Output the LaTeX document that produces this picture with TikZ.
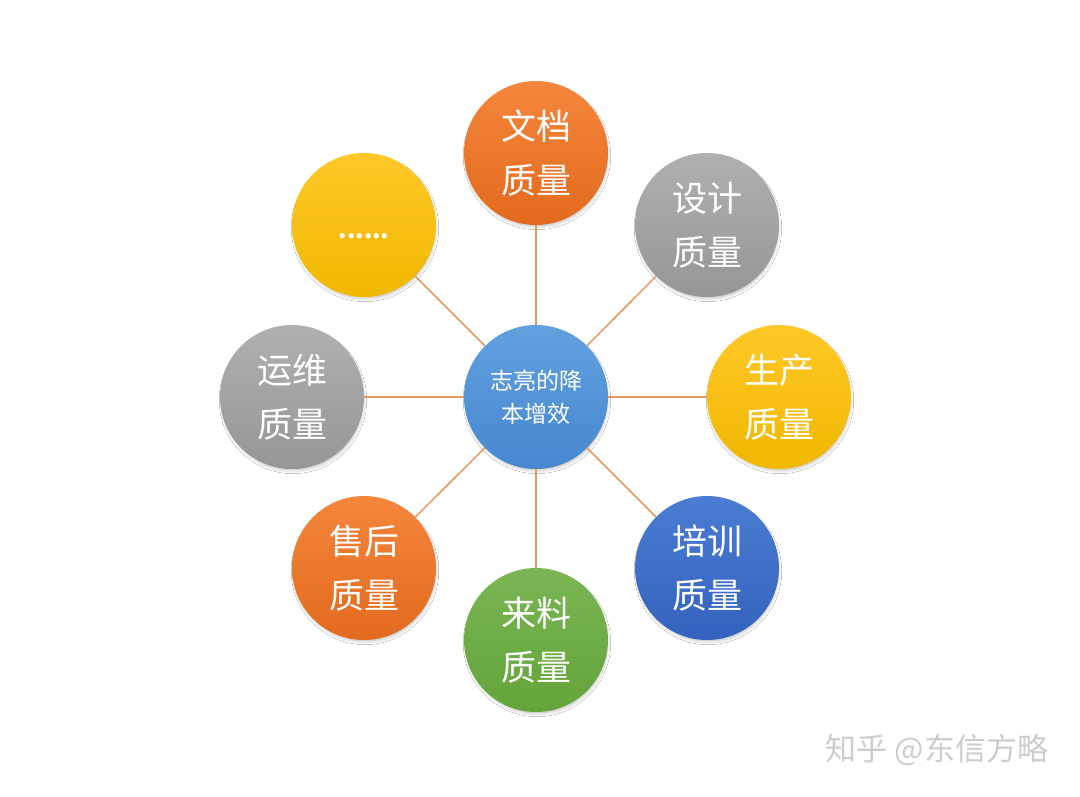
\documentclass[tikz,border=0pt]{standalone}
\usepackage{fontspec}
\setmainfont{Noto Sans CJK SC}
\usetikzlibrary{shadows.blur}
\definecolor{orgT}{RGB}{244,134,60}
\definecolor{orgB}{RGB}{226,106,30}
\definecolor{gryT}{RGB}{176,176,176}
\definecolor{gryB}{RGB}{150,150,150}
\definecolor{ylwT}{RGB}{255,200,40}
\definecolor{ylwB}{RGB}{240,184,0}
\definecolor{bluT}{RGB}{75,125,210}
\definecolor{bluB}{RGB}{52,98,190}
\definecolor{grnT}{RGB}{122,182,84}
\definecolor{grnB}{RGB}{100,164,58}
\definecolor{cenT}{RGB}{98,160,222}
\definecolor{cenB}{RGB}{70,136,208}
\definecolor{linkc}{RGB}{232,150,95}
\definecolor{wmark}{RGB}{205,205,205}
\begin{document}
\begin{tikzpicture}[x=1pt,y=-1pt,
  bubble/.style={circle, minimum size=144pt, inner sep=0pt, text=white,
    font=\fontsize{35}{54}\selectfont, align=center,
    blur shadow={shadow blur steps=8, shadow xshift=1pt, shadow yshift=-3pt, shadow opacity=30, shadow blur radius=4pt, shadow scale=0.97}},
  orgb/.style={bubble, top color=orgT, bottom color=orgB},
  gryb/.style={bubble, top color=gryT, bottom color=gryB},
  ylwb/.style={bubble, top color=ylwT, bottom color=ylwB},
  blub/.style={bubble, top color=bluT, bottom color=bluB},
  grnb/.style={bubble, top color=grnT, bottom color=grnB},
  hub/.style={bubble, top color=cenT, bottom color=cenB, font=\fontsize{23}{33}\selectfont},
  link/.style={draw=linkc, line width=1.5pt}]
\useasboundingbox (0,0) rectangle (1080,797);
\fill[white] (0,0) rectangle (1080,797);
\node[hub] (c) at (536,397) {志亮的降\\本增效};
\node[orgb] (n1) at (536,153) {文档\\质量};
\node[gryb] (n2) at (707,225) {设计\\质量};
\node[ylwb] (n3) at (779,397) {生产\\质量};
\node[blub] (n4) at (707,568) {培训\\质量};
\node[grnb] (n5) at (536,640) {来料\\质量};
\node[orgb] (n6) at (364,568) {售后\\质量};
\node[gryb] (n7) at (292,397) {运维\\质量};
\node[ylwb] (n8) at (364,225) {};
\node[text=white, font=\fontsize{24}{30}\bfseries\selectfont, inner sep=0pt, anchor=base] (dots) at (364,238) {......};
\foreach \n in {n1,n2,n3,n4,n5,n6,n7,n8} \draw[link] (c) -- (\n);
\node[text=wmark, font=\fontsize{31}{36}\selectfont, inner sep=0pt] (wm) at (937,750) {知乎 @东信方略};
\end{tikzpicture}
\end{document}
